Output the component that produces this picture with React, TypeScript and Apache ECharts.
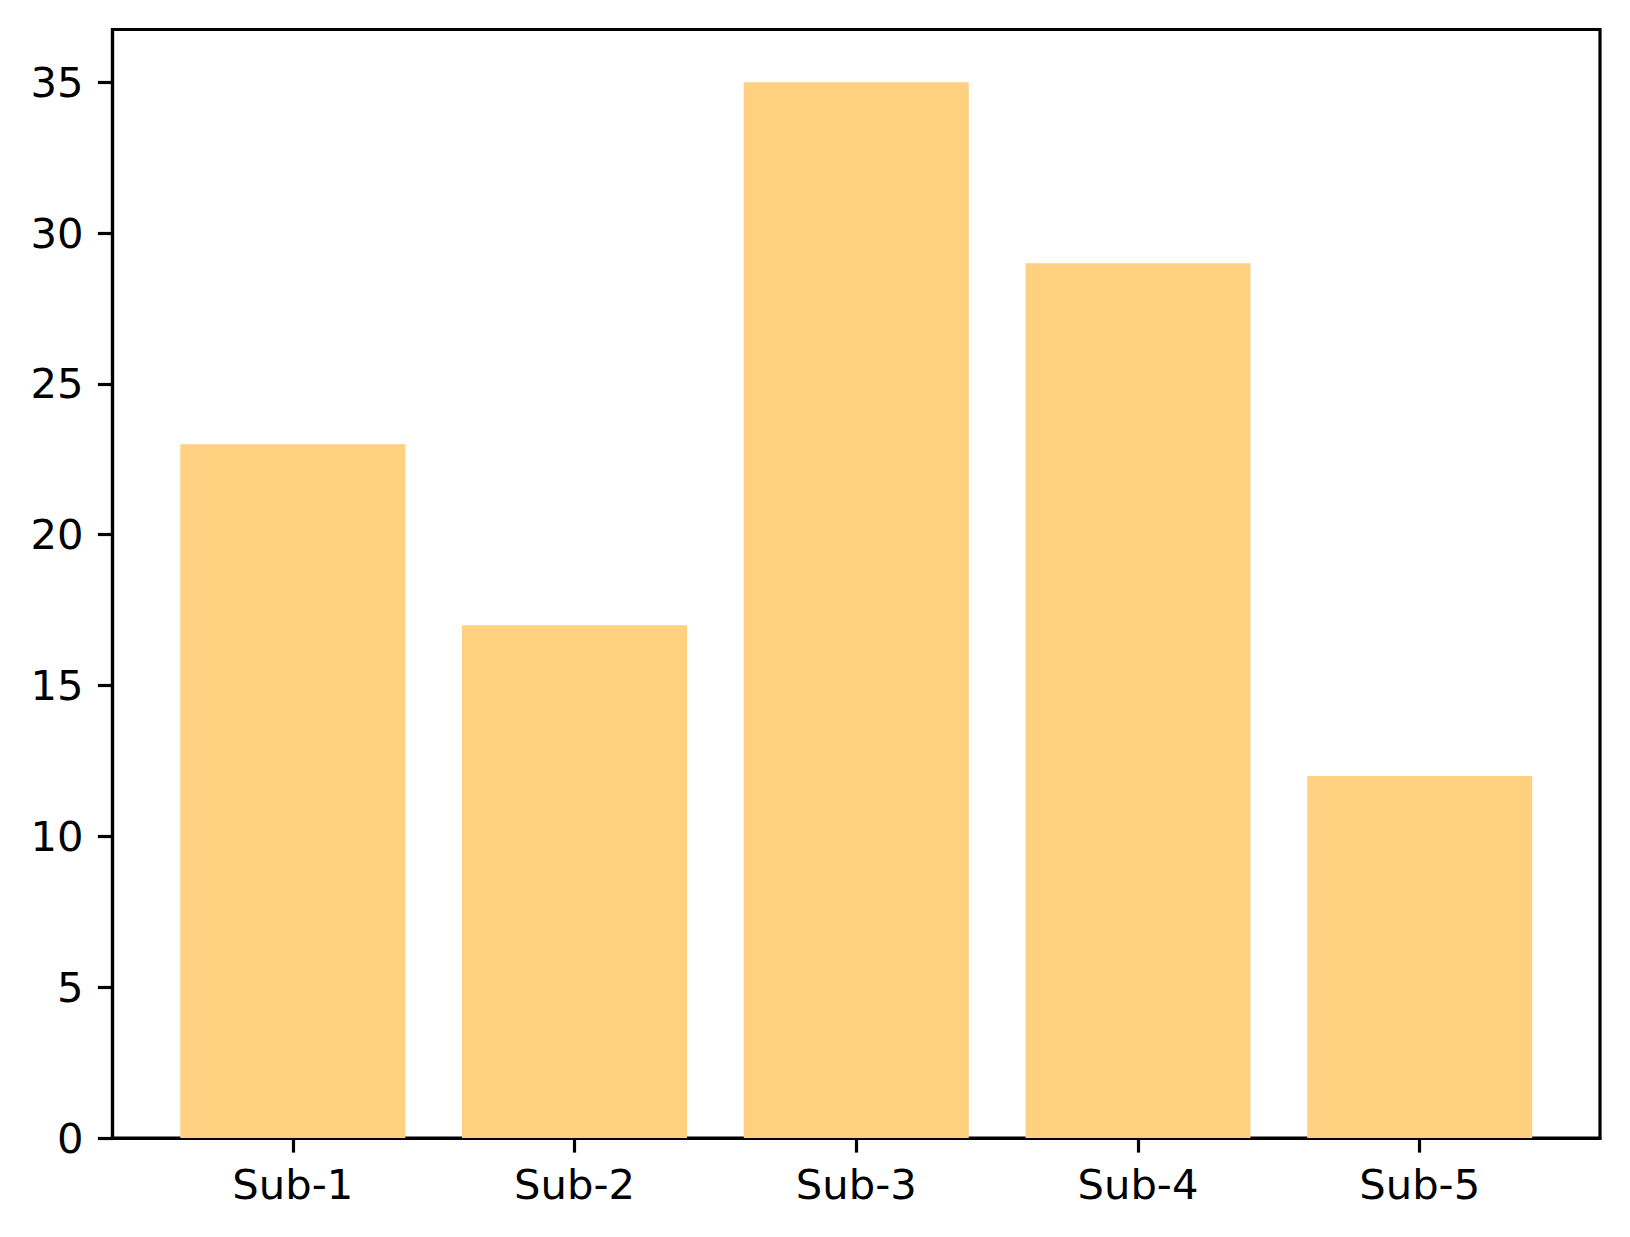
import React, { useEffect, useRef } from "react";
import * as echarts from "echarts";

const categories = ["Sub-1", "Sub-2", "Sub-3", "Sub-4", "Sub-5"];
const values = [23, 17, 35, 29, 12];
const yTicks = [0, 5, 10, 15, 20, 25, 30, 35];

export default function App() {
  const ref = useRef<HTMLDivElement>(null);
  useEffect(() => {
    if (!ref.current) return;
    const chart = echarts.init(ref.current, null, { renderer: "svg" });
    const font = "DejaVu Sans";
    chart.setOption({
      animation: false,
      backgroundColor: "#ffffff",
      grid: {
        left: 112.5,
        top: 29.5,
        right: 30,
        bottom: 99,
        show: true,
        borderColor: "#000",
        borderWidth: 3.2,
        backgroundColor: "transparent",
      },
      xAxis: {
        type: "value",
        min: -0.64,
        max: 4.64,
        splitLine: { show: false },
        axisLine: { show: true, onZero: false, lineStyle: { color: "#000", width: 3.2 } },
        axisTick: {
          show: true,
          customValues: [0, 1, 2, 3, 4],
          length: 14.6,
          lineStyle: { color: "#000", width: 3.2 },
        },
        axisLabel: {
          customValues: [0, 1, 2, 3, 4],
          formatter: (v: number) => categories[Math.round(v)] ?? "",
          color: "#000",
          fontFamily: font,
          fontSize: 41.7,
          margin: 25,
        },
      },
      yAxis: {
        type: "value",
        min: 0,
        max: 36.75,
        splitLine: { show: false },
        axisLine: { show: true, onZero: false, lineStyle: { color: "#000", width: 3.2 } },
        axisTick: {
          show: true,
          customValues: yTicks,
          length: 14.6,
          lineStyle: { color: "#000", width: 3.2 },
        },
        axisLabel: {
          customValues: yTicks,
          color: "#000",
          fontFamily: font,
          fontSize: 41.7,
          margin: 29,
        },
      },
      series: [
        {
          type: "bar",
          data: values.map((v, i) => [i, v]),
          barWidth: 225,
          itemStyle: { color: "#FED07F" },
        },
      ],
    });
    return () => chart.dispose();
  }, []);
  return (
    <div
      ref={ref}
      style={{ position: "fixed", left: 0, top: 0, width: 1630, height: 1237 }}
    />
  );
}
